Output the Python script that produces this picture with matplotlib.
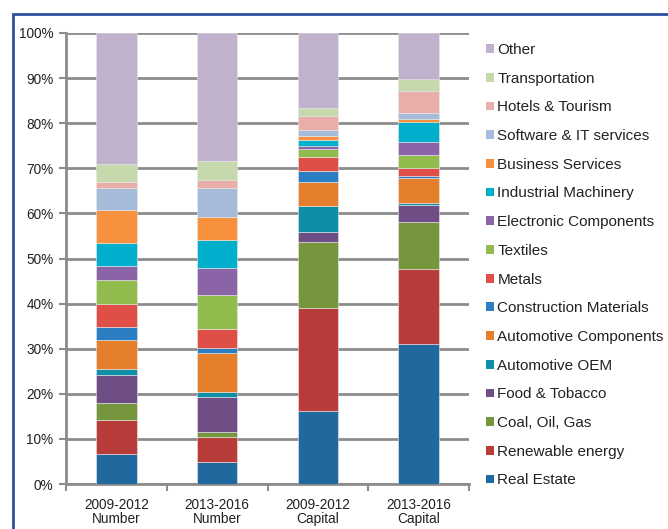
import numpy as np
import matplotlib.pyplot as plt
from matplotlib.patches import Rectangle, Patch

plt.rcParams['font.family'] = ['Liberation Sans', 'DejaVu Sans']

# Categories (x axis)
groups = ["2009-2012\nNumber", "2013-2016\nNumber", "2009-2012\nCapital", "2013-2016\nCapital"]

# Sectors, bottom to top
sectors = ["Real Estate", "Renewable energy", "Coal, Oil, Gas", "Food & Tobacco",
           "Automotive OEM", "Automotive Components", "Construction Materials", "Metals",
           "Textiles", "Electronic Components", "Industrial Machinery", "Business Services",
           "Software & IT services", "Hotels & Tourism", "Transportation", "Other"]

# Shares in % per group (same order as sectors)
number_0912 = [6.7, 7.6, 3.6, 6.3, 1.2, 6.5, 3.0, 5.0, 5.4, 3.0, 5.1, 7.4, 4.8, 1.4, 4.0, 29.0]
number_1316 = [4.8, 5.7, 1.1, 7.8, 0.9, 8.7, 1.2, 4.1, 7.5, 6.2, 6.1, 5.0, 6.5, 1.7, 4.3, 28.4]
capital_0912 = [16.1, 23.0, 14.6, 2.1, 5.8, 5.4, 2.5, 3.1, 1.6, 0.8, 1.2, 0.9, 1.5, 3.0, 1.8, 16.6]
capital_1316 = [31.0, 16.7, 10.4, 3.8, 0.5, 5.5, 0.5, 1.6, 2.9, 3.0, 4.4, 0.7, 1.2, 5.0, 2.7, 10.1]

colors = ["#1F699F", "#B83C3A", "#76963E", "#6F4E86",
          "#0E8FA7", "#E67F2B", "#2B7EC1", "#E04E48",
          "#92BB4E", "#8B63A7", "#00AFCB", "#F7913E",
          "#A6BBDA", "#E9ADAA", "#C5D9AC", "#C0B1CC"]

data = np.array([number_0912, number_1316, capital_0912, capital_1316]).T

fig = plt.figure(figsize=(6.68, 5.29), dpi=100)
ax = fig.add_axes([66/668, 1 - 484/529, 403/668, 451/529])

x = np.arange(len(groups))
bottom = np.zeros(len(groups))
for name, vals, col in zip(sectors, data, colors):
    ax.bar(x, vals, 0.4, bottom=bottom, color=col, edgecolor="#e8e8e8",
           linewidth=0.4, zorder=3)
    bottom += vals

ax.set_xlim(-0.5, 3.5)
ax.set_ylim(0, 100)
ax.set_yticks(np.arange(0, 101, 10))
ax.set_yticklabels([f"{v}%" for v in range(0, 101, 10)], fontsize=9.8, color="#222222")
ax.set_xticks(x)
ax.set_xticklabels(groups, fontsize=9.8, color="#222222", linespacing=1.0)
ax.set_xticks(np.arange(-0.5, 4, 1), minor=True)
ax.tick_params(axis='x', which='major', length=0, pad=10)
ax.tick_params(axis='x', which='minor', length=5, width=1.5, color="#8c8c8c")
ax.tick_params(axis='y', length=5, width=1.5, color="#8c8c8c", pad=4)

ax.yaxis.grid(True, color="#8c8c8c", linewidth=2, zorder=0)
for s in ['top', 'right']:
    ax.spines[s].set_visible(False)
for s in ['left', 'bottom']:
    ax.spines[s].set_color("#8c8c8c")
    ax.spines[s].set_linewidth(2)

# legend, top item first
handles = [Patch(facecolor=c, edgecolor='none') for c in colors][::-1]
fig.legend(handles, sectors[::-1], loc='upper left',
           bbox_to_anchor=(486/668, 1 - 43/529), frameon=False,
           fontsize=11, labelspacing=0.962, handlelength=0.5, handleheight=0.5,
           handletextpad=0.25, borderaxespad=0, borderpad=0, labelcolor="#222222")

# blue frame
fig.patches.append(Rectangle((13/668, -0.1), 1.2, 0.1 + 1 - 14.5/529,
                             transform=fig.transFigure, fill=False,
                             edgecolor="#2F4F9F", linewidth=2))

fig.savefig("out.png", dpi=100)
